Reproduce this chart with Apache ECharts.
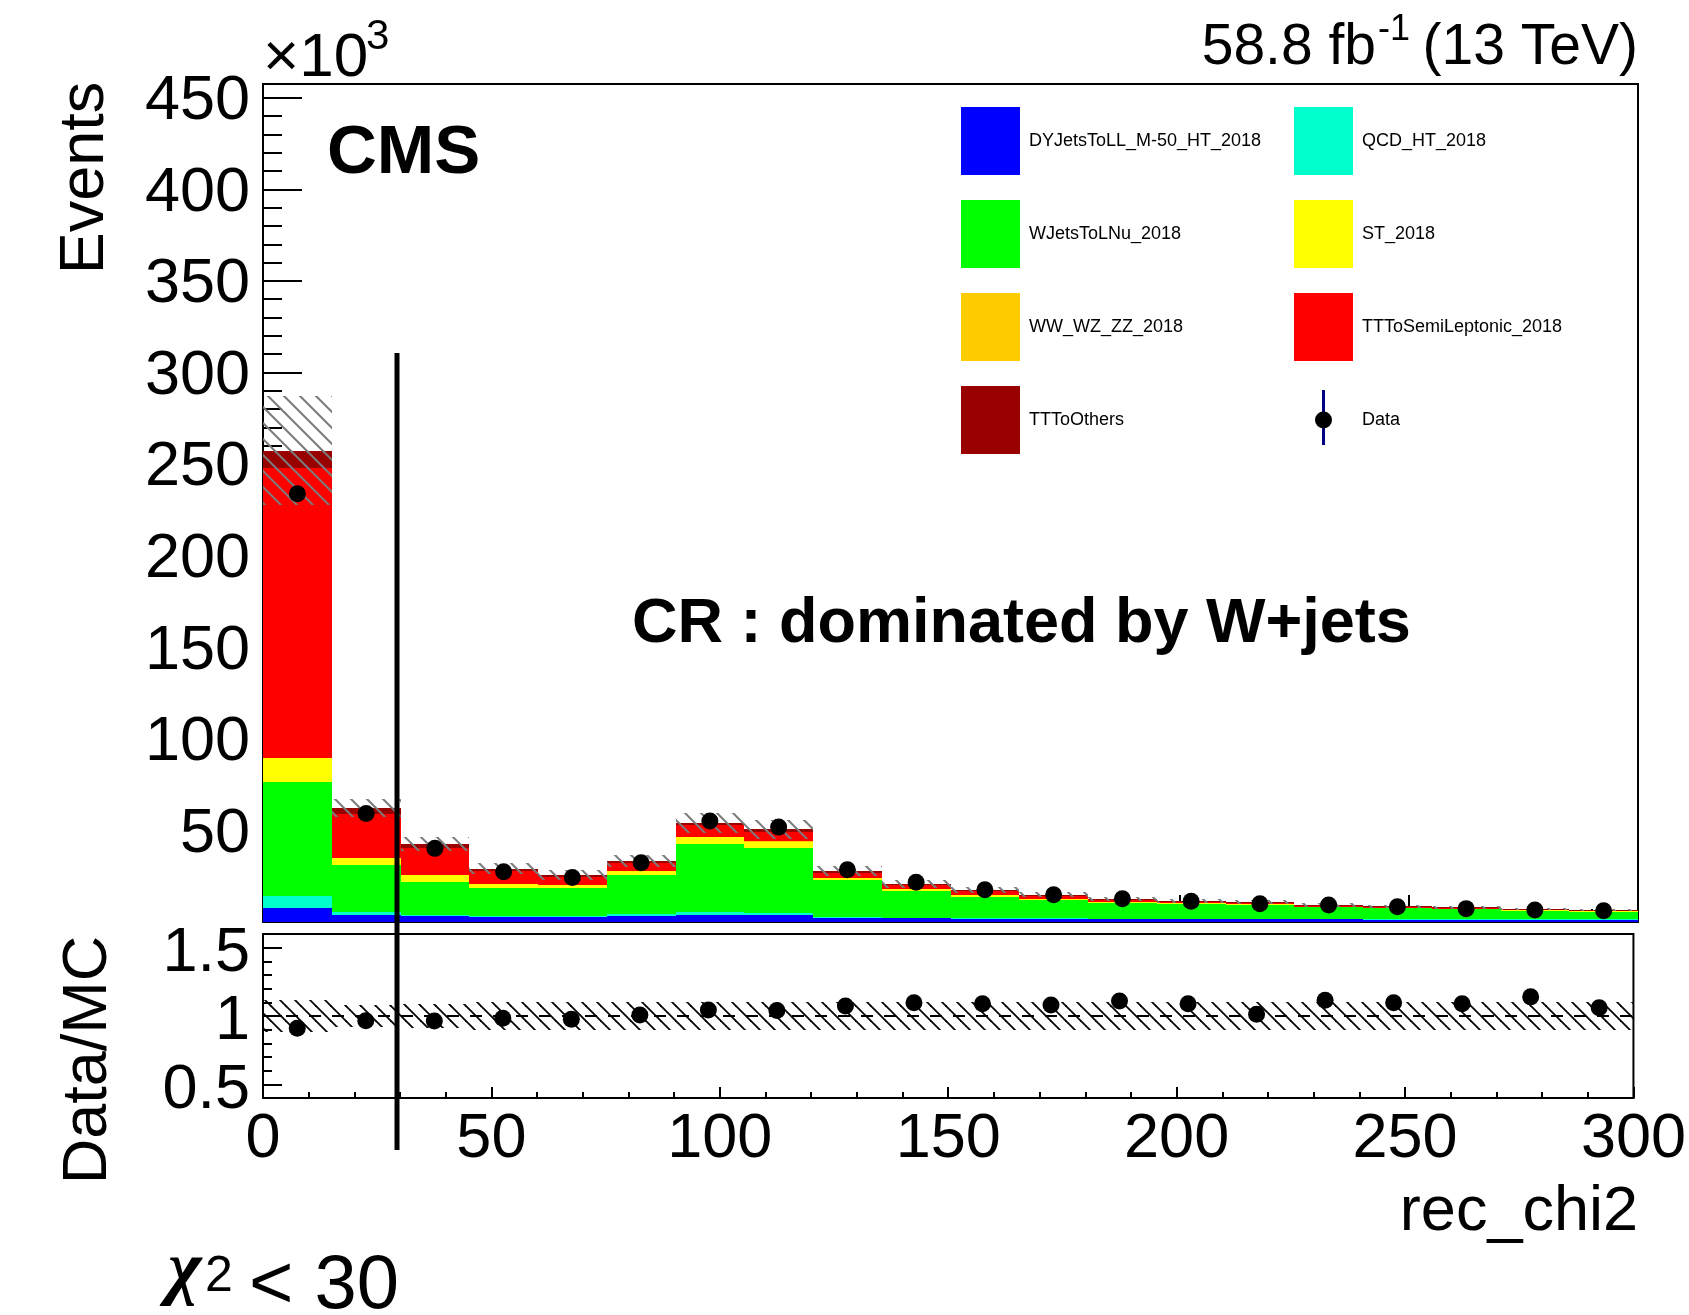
<!DOCTYPE html>
<html><head><meta charset="utf-8">
<script src="https://cdn.jsdelivr.net/npm/echarts@6/dist/echarts.min.js"></script>
<style>html,body{margin:0;padding:0;background:#fff}#c{width:1689px;height:1315px}</style>
</head><body><div id="c"></div>
<script>
// ---------------- data (events in units of 10^3) ----------------
const binEdges = [0,15,30,45,60,75,90,105,120,135,150,165,180,195,210,225,240,255,270,285,300];
const DY      = [7.7, 3.8, 3.2, 3.0, 3.0, 3.4, 3.9, 3.6, 2.2, 2.0, 1.8, 1.7, 1.6, 1.5, 1.4, 1.4, 1.3, 1.3, 1.2, 1.2];
const QCD     = [6.6, 1.4, 0.5, 0.5, 0.5, 1.0, 1.5, 1.4, 0.4, 0.3, 0.3, 0.3, 0.2, 0.2, 0.2, 0.2, 0.2, 0.2, 0.2, 0.2];
const WJets   = [62.0, 25.7, 18.4, 15.3, 15.1, 21.1, 37.3, 35.5, 20.4, 14.5, 11.8, 10.0, 8.7, 8.0, 7.6, 6.4, 5.9, 5.4, 4.7, 4.2];
const ST      = [13.0, 4.0, 3.3, 1.8, 1.4, 2.1, 3.5, 3.3, 1.0, 1.2, 1.0, 0.6, 0.5, 0.45, 0.4, 0.35, 0.35, 0.3, 0.3, 0.25];
const WW      = [0.3, 0.1, 0.2, 0.1, 0.1, 0.1, 0.2, 0.2, 0.1, 0.1, 0.1, 0.1, 0.1, 0.05, 0.05, 0.05, 0.05, 0.05, 0.05, 0.05];
const TTSemi  = [158.1, 24.1, 15.0, 7.1, 4.5, 4.6, 6.3, 5.1, 2.9, 2.2, 2.1, 1.7, 1.0, 0.8, 0.65, 0.5, 0.45, 0.4, 0.35, 0.35];
const TTOther = [9.7, 3.0, 2.0, 1.3, 1.0, 1.2, 1.5, 1.4, 0.8, 0.6, 0.5, 0.5, 0.4, 0.4, 0.4, 0.3, 0.3, 0.3, 0.25, 0.25];
const dataVals = [233.8, 59.2, 40.2, 27.4, 24.3, 32.4, 55.1, 51.8, 28.5, 21.7, 17.6, 14.9, 12.7, 11.3, 10.0, 9.3, 8.3, 7.3, 6.6, 6.1];
const ratioVals = [0.91, 0.966, 0.964, 0.983, 0.976, 1.007, 1.044, 1.041, 1.073, 1.097, 1.09, 1.08, 1.109, 1.09, 1.012, 1.116, 1.097, 1.09, 1.14, 1.06];
const mcRelErr = [0.115, 0.08, 0.09, 0.1, 0.1, 0.1, 0.1, 0.1, 0.1, 0.1, 0.1, 0.1, 0.1, 0.1, 0.1, 0.1, 0.1, 0.1, 0.1, 0.1];
const yTickLabels = [50, 100, 150, 200, 250, 300, 350, 400, 450];
const ratioTickLabels = [0.5, 1, 1.5];
const cutValue = 29.3;

const FONT = '"Liberation Sans", Arial, Helvetica, sans-serif';

const components = [
  {name: 'DYJetsToLL_M-50_HT_2018', values: DY, color: '#0000ff'},
  {name: 'QCD_HT_2018', values: QCD, color: '#00ffcc'},
  {name: 'WJetsToLNu_2018', values: WJets, color: '#00ff00'},
  {name: 'ST_2018', values: ST, color: '#ffff00'},
  {name: 'WW_WZ_ZZ_2018', values: WW, color: '#ffcc00'},
  {name: 'TTToSemiLeptonic_2018', values: TTSemi, color: '#ff0000'},
  {name: 'TTToOthers', values: TTOther, color: '#990000'}
];

function makeHatch(color, size, lw) {
  const cv = document.createElement('canvas');
  cv.width = size; cv.height = size;
  const ctx = cv.getContext('2d');
  ctx.strokeStyle = color; ctx.lineWidth = lw;
  for (let k = -1; k <= 1; k++) {
    ctx.beginPath();
    ctx.moveTo(k * size - 2, -2);
    ctx.lineTo(k * size + size + 2, size + 2);
    ctx.stroke();
  }
  return {type: 'pattern', image: cv, repeat: 'repeat'};
}
const hatchTop = makeHatch('#7a7a7a', 16, 2);
const hatchRatio = makeHatch('#000000', 15, 1.8);

function rectRender(fillOverride) {
  return function (params, api) {
    const p0 = api.coord([api.value(0), api.value(3)]);
    const p1 = api.coord([api.value(1), api.value(2)]);
    const x0 = Math.round(p0[0]), x1 = Math.round(p1[0]);
    const y0 = Math.round(p0[1]), y1 = Math.round(p1[1]);
    return {type: 'rect', shape: {x: x0, y: y0, width: x1 - x0, height: y1 - y0},
            style: {fill: fillOverride || api.visual('color')}};
  };
}

const nBins = binEdges.length - 1;
const centers = [];
for (let i = 0; i < nBins; i++) centers.push((binEdges[i] + binEdges[i + 1]) / 2);

const series = [];
let base = new Array(nBins).fill(0);
components.forEach(c => {
  const d = c.values.map((v, i) => [binEdges[i], binEdges[i + 1], base[i], base[i] + v]);
  base = base.map((b, i) => b + c.values[i]);
  series.push({
    type: 'custom', name: c.name, xAxisIndex: 0, yAxisIndex: 0,
    itemStyle: {color: c.color}, renderItem: rectRender(null),
    encode: {x: [0, 1], y: [2, 3]}, data: d, z: 2, silent: true
  });
});
const totalMC = base;

series.push({
  type: 'custom', name: 'MCunc', xAxisIndex: 0, yAxisIndex: 0, z: 3, silent: true,
  renderItem: rectRender(hatchTop), encode: {x: [0, 1], y: [2, 3]},
  data: totalMC.map((t, i) => [binEdges[i], binEdges[i + 1], t * (1 - mcRelErr[i]), t * (1 + mcRelErr[i])])
});
series.push({
  type: 'scatter', name: 'Data', xAxisIndex: 0, yAxisIndex: 0, z: 5,
  symbol: 'circle', symbolSize: 17, itemStyle: {color: '#000', opacity: 1},
  data: centers.map((c, i) => [c, dataVals[i]])
});
// ratio panel
series.push({
  type: 'custom', name: 'RatioUnc', xAxisIndex: 1, yAxisIndex: 1, z: 3, silent: true,
  renderItem: rectRender(hatchRatio), encode: {x: [0, 1], y: [2, 3]},
  data: mcRelErr.map((e, i) => [binEdges[i], binEdges[i + 1], 1 - e, 1 + e])
});
series.push({
  type: 'line', name: 'unity', xAxisIndex: 1, yAxisIndex: 1, z: 4, silent: true,
  symbol: 'none', lineStyle: {color: '#000', width: 2, type: [12, 11]},
  data: [[binEdges[0], 1], [binEdges[nBins], 1]]
});
series.push({
  type: 'scatter', name: 'Ratio', xAxisIndex: 1, yAxisIndex: 1, z: 5,
  symbol: 'circle', symbolSize: 17, itemStyle: {color: '#000', opacity: 1},
  data: centers.map((c, i) => [c, ratioVals[i]])
});

const dataIcon = 'path://M0,0 L0.3,0 L0,0.3 Z M59,68 L58.7,68 L59,67.7 Z M21,34 A8.5,8.5 0 1 1 38,34 A8.5,8.5 0 1 1 21,34 Z';
const legendCommon = {
  orient: 'vertical', top: 107, itemWidth: 59, itemHeight: 68, itemGap: 25, padding: 0,
  icon: 'rect', selectedMode: false,
  textStyle: {fontSize: 18, fontFamily: FONT, color: '#000', padding: [0, 0, 0, 4]}
};

const axisLine = {show: true, lineStyle: {color: '#000', width: 2}};

function txt(id, x, y, text, font, align, extra) {
  return Object.assign({type: 'text', id: id, x: x, y: y, z: 20,
    style: {text: text, font: font, fill: '#000', align: align, textAlign: align,
            verticalAlign: 'middle', textVerticalAlign: 'middle'}}, extra || {});
}

const option = {
  animation: false,
  backgroundColor: '#fff',
  grid: [
    {left: 263, right: 51, top: 84, height: 838, show: true, borderColor: '#000', borderWidth: 2, backgroundColor: 'transparent'},
    {left: 263, right: 51, top: 934, height: 164, show: true, borderColor: '#000', borderWidth: 2, backgroundColor: 'transparent'}
  ],
  xAxis: [
    {type: 'value', gridIndex: 0, min: 0, max: 300, interval: 50,
     axisLine: axisLine, axisLabel: {show: false}, splitLine: {show: false},
     axisTick: {show: true, inside: true, length: 27, lineStyle: {color: '#000', width: 2}},
     minorTick: {show: true, splitNumber: 5, length: 13, lineStyle: {color: '#000', width: 2}}},
    {type: 'value', gridIndex: 1, min: 0, max: 300, interval: 50,
     axisLine: axisLine, splitLine: {show: false},
     axisLabel: {show: true, fontSize: 63, fontFamily: FONT, color: '#000', margin: 10},
     axisTick: {show: true, inside: true, length: 11, lineStyle: {color: '#000', width: 2}},
     minorTick: {show: true, splitNumber: 5, length: 6, lineStyle: {color: '#000', width: 2}}}
  ],
  yAxis: [
    {type: 'value', gridIndex: 0, min: 0, max: 457.5, interval: 50, position: 'left',
     axisLine: axisLine, splitLine: {show: false},
     axisLabel: {show: true, customValues: yTickLabels, fontSize: 63, fontFamily: FONT, color: '#000', margin: 13,
                 verticalAlign: 'top', lineHeight: 8},
     axisTick: {show: true, inside: true, length: 39, lineStyle: {color: '#000', width: 2}},
     minorTick: {show: true, splitNumber: 5, length: 19, lineStyle: {color: '#000', width: 2}}},
    {type: 'value', gridIndex: 1, min: 0.4, max: 1.6, interval: 0.1, position: 'left',
     axisLine: axisLine, splitLine: {show: false},
     axisLabel: {show: true, customValues: ratioTickLabels, fontSize: 63, fontFamily: FONT, color: '#000', margin: 13,
                 verticalAlign: 'top', lineHeight: 12, formatter: v => String(Math.round(v * 10) / 10)},
     axisTick: {show: true, inside: true, length: 9, lineStyle: {color: '#000', width: 2}}},
    {type: 'value', gridIndex: 1, min: 0.4, max: 1.6, interval: 0.1, position: 'left', offset: 0,
     axisLine: {show: false}, splitLine: {show: false}, axisLabel: {show: false},
     axisTick: {show: true, inside: true, length: 19, customValues: ratioTickLabels, lineStyle: {color: '#000', width: 2}}}
  ],
  legend: [
    Object.assign({}, legendCommon, {left: 961,
      data: ['DYJetsToLL_M-50_HT_2018', 'WJetsToLNu_2018', 'WW_WZ_ZZ_2018', 'TTToOthers']}),
    Object.assign({}, legendCommon, {left: 1294,
      data: ['QCD_HT_2018', 'ST_2018', 'TTToSemiLeptonic_2018', {name: 'Data', icon: dataIcon}]})
  ],
  graphic: [
    {type: 'rect', id: 'dataLegLine', z: 0, shape: {x: 1322, y: 390, width: 3, height: 55}, style: {fill: '#000080'}},
    txt('t_x10', 263, 59, '×10', '62px ' + FONT, 'left'),
    txt('t_x10e', 366, 37, '3', '42px ' + FONT, 'left'),
    txt('t_cms', 327, 154, 'CMS', 'bold 69px ' + FONT, 'left'),
    txt('t_lumi1', 1376, 48, '58.8 fb', '57px ' + FONT, 'right'),
    txt('t_lumi2', 1378, 30, '-1', '36px ' + FONT, 'left'),
    txt('t_lumi3', 1638, 48, '(13 TeV)', '57px ' + FONT, 'right'),
    txt('t_cr', 632, 625, 'CR : dominated by W+jets', 'bold 63px ' + FONT, 'left'),
    txt('t_events', 86, 178, 'Events', '63px ' + FONT, 'center', {rotation: Math.PI / 2}),
    txt('t_ratio', 89, 1060, 'Data/MC', '63px ' + FONT, 'center', {rotation: Math.PI / 2}),
    txt('t_xtitle', 1638, 1213, 'rec_chi2', '63px ' + FONT, 'right'),
    txt('t_chi', 168, 1272, 'χ', 'italic bold 72px "Liberation Serif", serif', 'left'),
    txt('t_chi2', 205, 1277, '2', '50px ' + FONT, 'left'),
    txt('t_chi3', 249, 1287, '< 30', '76px ' + FONT, 'left')
  ],
  series: series
};

const chart = echarts.init(document.getElementById('c'), null, {renderer: 'canvas'});
chart.setOption(option);
const cutX = chart.convertToPixel({xAxisIndex: 0}, cutValue);
chart.setOption({graphic: [
  {type: 'rect', id: 'cutLine', z: 10, shape: {x: Math.round(cutX) - 2.5, y: 353, width: 5, height: 797}, style: {fill: '#000'}}
]});
</script>
</body></html>
